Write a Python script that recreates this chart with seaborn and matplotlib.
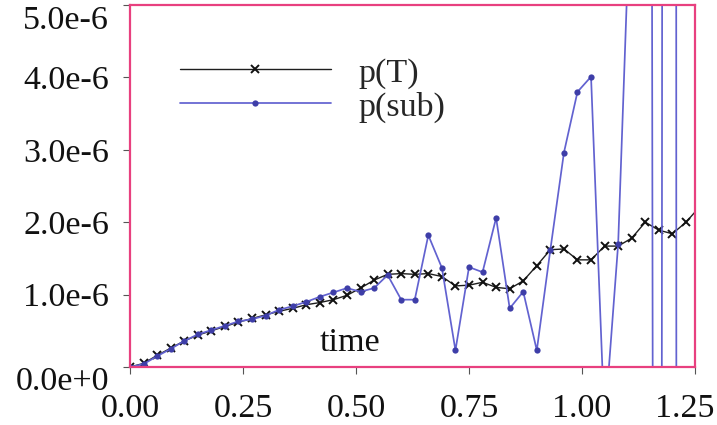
import matplotlib
matplotlib.use("Agg")
import matplotlib.pyplot as plt
import matplotlib.transforms as mtransforms
import seaborn as sns
import pandas as pd
from matplotlib.ticker import FuncFormatter, MultipleLocator

# time points
time = [0.00, 0.03, 0.06, 0.09, 0.12, 0.15, 0.18, 0.21, 0.24, 0.27,
        0.30, 0.33, 0.36, 0.39, 0.42, 0.45, 0.48, 0.51, 0.54, 0.57,
        0.60, 0.63, 0.66, 0.69, 0.72, 0.75, 0.78, 0.81, 0.84, 0.87,
        0.90, 0.93, 0.96, 0.99, 1.02, 1.05, 1.08, 1.11, 1.14, 1.17,
        1.20, 1.23, 1.26]

# p(T) in units of 1e-6
p_T = [0.00, 0.05, 0.16, 0.26, 0.36, 0.44, 0.50, 0.56, 0.62, 0.67,
       0.72, 0.77, 0.81, 0.86, 0.89, 0.93, 0.99, 1.09, 1.20, 1.28,
       1.29, 1.28, 1.29, 1.25, 1.12, 1.13, 1.17, 1.10, 1.08, 1.19,
       1.40, 1.62, 1.63, 1.48, 1.48, 1.67, 1.67, 1.78, 2.00, 1.89,
       1.84, 2.00, 2.21]

# p(sub) in units of 1e-6 (diverges at the end)
p_sub = [0.00, 0.04, 0.15, 0.25, 0.36, 0.45, 0.51, 0.57, 0.63, 0.66,
         0.71, 0.79, 0.84, 0.90, 0.97, 1.03, 1.09, 1.04, 1.09, 1.27,
         0.93, 0.93, 1.82, 1.37, 0.23, 1.38, 1.31, 2.06, 0.81, 1.04,
         0.23, 1.62, 2.96, 3.80, 4.01, -0.8, 1.7, 7.0, 60.0, -50.0,
         177.0, -433.0]

x_ticks = [0.00, 0.25, 0.50, 0.75, 1.00, 1.25]
y_ticks = [0.0, 1.0, 2.0, 3.0, 4.0, 5.0]

df_T = pd.DataFrame({"time": time, "p": [v * 1e-6 for v in p_T]})
df_s = pd.DataFrame({"time": time[:len(p_sub)], "p": [v * 1e-6 for v in p_sub]})

sns.set_style("white")
plt.rcParams["font.family"] = ["Liberation Serif", "DejaVu Serif"]

fig = plt.figure(figsize=(7.17, 4.25), dpi=100)
ax = fig.add_axes([130 / 717, 1 - 367 / 425, 565 / 717, 362 / 425])

line_T = "#1e1e1e"
blue = "#6262d0"
sns.lineplot(data=df_T, x="time", y="p", ax=ax, color=line_T, linewidth=1.0,
             marker="x", markersize=5.5, markeredgewidth=1.4, markeredgecolor="#111111",
             label="p(T)", estimator=None, sort=False)
sns.lineplot(data=df_s, x="time", y="p", ax=ax, color=blue, linewidth=1.25,
             marker="o", markersize=4.5, markeredgewidth=0, markerfacecolor="#3e3ea8",
             label="p(sub)", estimator=None, sort=False)

ax.set_xlim(0, 1.25)
ax.set_ylim(0, 5e-6)
ax.set_xlabel("")
ax.set_ylabel("")

ax.xaxis.set_minor_locator(MultipleLocator(0.125))
ax.yaxis.set_minor_locator(MultipleLocator(0.5e-6))
ax.set_xticks(x_ticks)
ax.set_yticks([v * 1e-6 for v in y_ticks])
ax.xaxis.set_major_formatter(FuncFormatter(lambda v, p: f"{v:.2f}"))
ax.yaxis.set_major_formatter(
    FuncFormatter(lambda v, p: "0.0e+0" if abs(v) < 1e-12 else f"{v * 1e6:.1f}e-6"))

ax.tick_params(axis="both", which="both", direction="out", color="#555555",
               width=0.8, labelsize=24.5, labelcolor="#111111")
ax.tick_params(axis="x", which="major", length=5, pad=14)
ax.tick_params(axis="y", which="major", length=5, pad=10)
ax.tick_params(axis="both", which="minor", length=4)
ax.tick_params(left=True, bottom=True)

for s in ax.spines.values():
    s.set_color("#e8407f")
    s.set_linewidth(1.6)
    s.set_visible(True)

ax.text(0.39, 0.066, "time", transform=ax.transAxes, fontsize=24.5,
        ha="center", va="center", color="#111111")

leg = ax.legend(loc="upper left", bbox_to_anchor=(0.088, 0.855), frameon=False,
                fontsize=24.5, handlelength=4.45, handletextpad=0.8,
                labelspacing=0.08, borderpad=0, borderaxespad=0, numpoints=1)

fig.canvas.draw()
ylabels = ax.get_yticklabels()
ylabels[0].set_va("top")
ylabels[-1].set_va("top")
xlabels = ax.get_xticklabels()
shift = mtransforms.ScaledTranslation(-10 / 100, 0, fig.dpi_scale_trans)
xlabels[-1].set_transform(xlabels[-1].get_transform() + shift)

fig.savefig("out.png", dpi=100)
